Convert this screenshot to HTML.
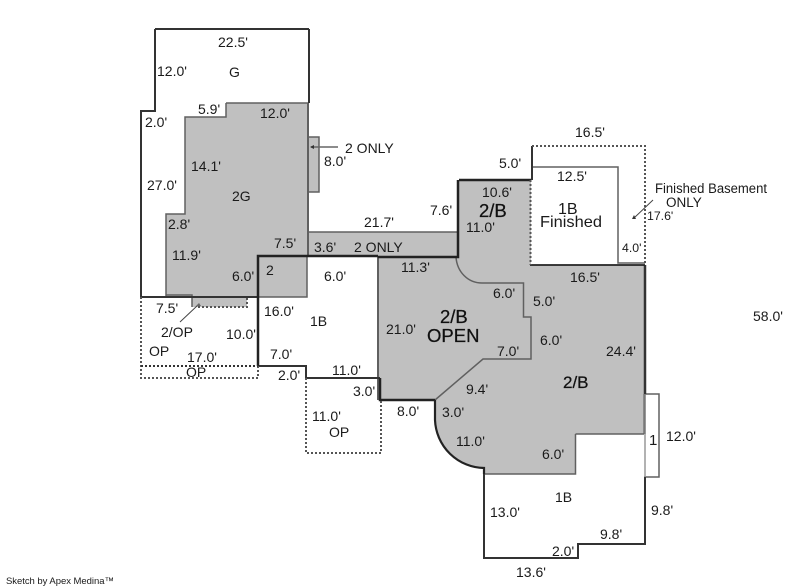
<!DOCTYPE html>
<html>
<head>
<meta charset="utf-8">
<style>
html,body{margin:0;padding:0;background:#fff;width:800px;height:587px;overflow:hidden}
svg{display:block}
text{font-family:"Liberation Sans",Arial,sans-serif;font-size:14px;fill:#1a1a1a}
.s{font-size:12.3px}
.m{font-size:16px}
.b{font-size:18.5px;fill:#111;stroke:#111;stroke-width:.25px}
.f{font-size:13.5px}
</style>
</head>
<body>
<svg width="800" height="587" viewBox="0 0 800 587" xmlns="http://www.w3.org/2000/svg">
<!-- gray fills -->
<g fill="#c0c0c0" stroke="none">
<path d="M226 103H308V257H307V297H166V214H185V117H226Z"/>
<rect x="308" y="137" width="11" height="55"/>
<rect x="192" y="296" width="55" height="11"/>
<rect x="308" y="232" width="151" height="25"/>
<path d="M459 180H531V265H645V434H575V474H484V468A50 50 0 0 1 435 420V400H378V257H459Z"/>
</g>
<!-- gray lines -->
<g fill="none" stroke="#606060" stroke-width="1.5">
<path d="M308 232H459"/>
<path d="M308 137H319V192H308"/>
<path d="M226 103H308M226 103V117H185V214H166V296"/>
<path d="M308 103V257" stroke-width="2"/>
<path d="M307 257V297H258"/>
<path d="M532 167H618V263H645"/>
<path d="M456 257C457 272 468 283 482 283H523.500V317H531V359H483L435 400"/>
<path d="M644 394H659V477H644"/>
<path d="M644.500 394V434" stroke-width="2.500" stroke="#777"/>
<path d="M645 434V477" stroke="#999"/>
<path d="M575.500 434H644M575.500 434V474H484"/>
<path d="M378 257V400" stroke-width="2"/>
<path d="M166 295H192V307"/>
</g>
<!-- dark solid lines -->
<g fill="none" stroke="#333" stroke-width="2">
<path d="M309 29V103M155 29H309M155 29V111H141V297"/>
<path d="M141 297H258"/>
<path d="M484 474V558H578V544H645V477"/>
<path d="M645 265V394" stroke-width="2.500"/>
<path d="M532 146V180"/>
<path d="M258 366H306V378H380"/>
</g>
<g fill="none" stroke="#222" stroke-width="2.500">
<path d="M258 297V256H378"/>
<path d="M258 297V366"/>
<path d="M459 180H531"/>
<path d="M458 180V257H378"/>
<path d="M380 378V400H435"/>
<path d="M435 400V420A50 50 0 0 0 484 468V474" stroke-width="2.200"/>
<path d="M530 265H645" stroke-width="1.800"/>
</g>
<!-- dashed lines -->
<g fill="none" stroke="#555" stroke-width="2" stroke-dasharray="2 2">
<path d="M532 146H645V265"/>
<path d="M530.500 180V265"/>
<path d="M141 297V378H258V366"/>
<path d="M141 366H258" stroke="#333"/>
<path d="M306 378V453H381V400"/>
<path d="M198 307H247V296"/>
</g>
<!-- arrows -->
<g fill="none" stroke="#444" stroke-width="1">
<path d="M180 322L198 305"/>
<path d="M653 200L634 218"/>
</g>
<path d="M311 147H338" stroke="#666" stroke-width="1.500" fill="none"/>
<path d="M310 147L314 145V149Z" fill="#333"/>
<path d="M632 219L634 215L636 219Z" fill="#333"/>
<path d="M196 306L199 303L201 306Z" fill="#666"/>
<!-- labels -->
<text x="218" y="47">22.5'</text>
<text x="157" y="76">12.0'</text>
<text x="229" y="77">G</text>
<text x="198" y="114">5.9'</text>
<text x="260" y="118">12.0'</text>
<text x="145" y="127">2.0'</text>
<text x="345" y="153">2 ONLY</text>
<text x="324" y="166">8.0'</text>
<text x="191" y="171">14.1'</text>
<text x="147" y="190">27.0'</text>
<text x="232" y="201">2G</text>
<text x="168" y="229">2.8'</text>
<text x="274" y="248">7.5'</text>
<text x="364" y="227">21.7'</text>
<text x="314" y="252">3.6'</text>
<text x="354" y="252">2 ONLY</text>
<text x="172" y="260">11.9'</text>
<text x="232" y="281">6.0'</text>
<text x="266" y="275">2</text>
<text x="324" y="281">6.0'</text>
<text x="156" y="313">7.5'</text>
<text x="264" y="316">16.0'</text>
<text x="310" y="326">1B</text>
<text x="161" y="337">2/OP</text>
<text x="226" y="339">10.0'</text>
<text x="149" y="356">OP</text>
<text x="187" y="362">17.0'</text>
<text x="270" y="359">7.0'</text>
<text x="186" y="377">OP</text>
<text x="278" y="380">2.0'</text>
<text x="332" y="375">11.0'</text>
<text x="353" y="396">3.0'</text>
<text x="312" y="421">11.0'</text>
<text x="329" y="437">OP</text>
<text x="575" y="137">16.5'</text>
<text x="499" y="168">5.0'</text>
<text x="557" y="181">12.5'</text>
<text x="482" y="197">10.6'</text>
<text x="430" y="215">7.6'</text>
<text class="b" x="479" y="217">2/B</text>
<text x="466" y="232">11.0'</text>
<text class="m" x="558" y="214">1B</text>
<text class="m" x="540" y="227" textLength="62" lengthAdjust="spacingAndGlyphs">Finished</text>
<text class="s" x="622" y="252">4.0'</text>
<text class="f" x="655" y="193" textLength="112" lengthAdjust="spacingAndGlyphs">Finished Basement</text>
<text class="f" x="666" y="207">ONLY</text>
<text class="s" x="647" y="220">17.6'</text>
<text x="401" y="272">11.3'</text>
<text x="570" y="282">16.5'</text>
<text x="493" y="298">6.0'</text>
<text x="533" y="306">5.0'</text>
<text class="b" x="440" y="323">2/B</text>
<text class="b" x="427" y="342">OPEN</text>
<text x="386" y="334">21.0'</text>
<text x="540" y="345">6.0'</text>
<text x="497" y="356">7.0'</text>
<text x="606" y="356">24.4'</text>
<text class="b" x="563" y="388" style="font-size:17px">2/B</text>
<text x="466" y="394">9.4'</text>
<text x="397" y="416">8.0'</text>
<text x="442" y="417">3.0'</text>
<text x="456" y="446">11.0'</text>
<text class="m" x="649" y="445" style="font-size:15px">1</text>
<text x="666" y="441">12.0'</text>
<text x="542" y="459">6.0'</text>
<text x="555" y="502">1B</text>
<text x="490" y="517">13.0'</text>
<text x="651" y="515">9.8'</text>
<text x="600" y="539">9.8'</text>
<text x="552" y="556">2.0'</text>
<text x="516" y="577">13.6'</text>
<text x="753" y="321">58.0'</text>
<text x="6" y="584" style="font-size:9.500px" textLength="108" lengthAdjust="spacing">Sketch by Apex Medina™</text>
</svg>
</body>
</html>
